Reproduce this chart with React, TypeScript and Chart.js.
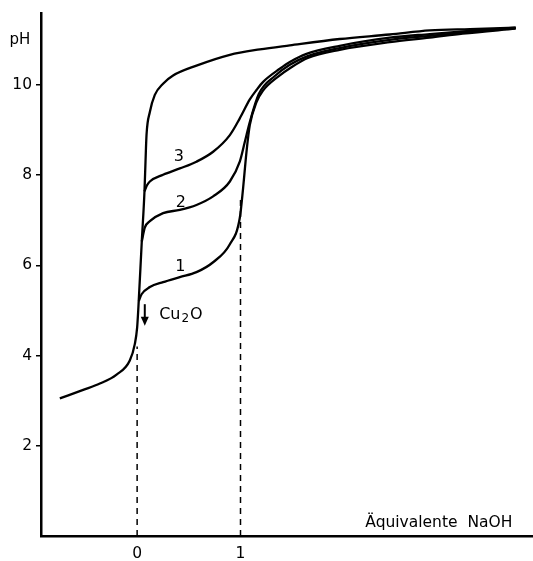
import React, { useEffect, useRef } from "react";
import { Chart, registerables } from "chart.js";

Chart.register(...registerables);

// Axis ranges and ticks (data units)
const X_MIN = -0.93;
const X_MAX = 3.82;
const Y_MIN = 0;
const Y_MAX = 11.59;
const X_TICKS = [0, 1];
const Y_TICKS = [2, 4, 6, 8, 10];

// Curve without Cu (base titration curve, unlabeled)
const curve0X = [-0.748, -0.522, -0.361, -0.199, -0.071, -0.022, 0.0, 0.012, 0.045, 0.071, 0.081, 0.091, 0.123, 0.171, 0.251, 0.348, 0.574, 0.897, 1.187, 1.477, 1.96, 2.444, 2.831, 3.218, 3.662];
const curve0Y = [3.05, 3.24, 3.38, 3.58, 3.89, 4.26, 4.62, 5.06, 6.53, 7.64, 8.3, 8.9, 9.4, 9.78, 10.03, 10.21, 10.43, 10.67, 10.79, 10.88, 11.02, 11.12, 11.21, 11.24, 11.27];

// Curve 1
const curve1X = [0.016, 0.043, 0.123, 0.251, 0.413, 0.574, 0.735, 0.897, 0.993, 1.025, 1.058, 1.09, 1.155, 1.216, 1.361, 1.496, 1.651, 1.96, 2.444, 2.831, 3.15, 3.662];
const curve1Y = [5.21, 5.36, 5.52, 5.63, 5.74, 5.85, 6.07, 6.47, 7.05, 7.71, 8.52, 9.11, 9.62, 9.87, 10.18, 10.4, 10.6, 10.78, 10.95, 11.05, 11.14, 11.25];

// Curve 2
const curve2X = [0.045, 0.074, 0.123, 0.251, 0.413, 0.574, 0.735, 0.897, 0.993, 1.042, 1.09, 1.177, 1.332, 1.477, 1.638, 1.96, 2.444, 2.831, 3.15, 3.662];
const curve2Y = [6.53, 6.84, 6.98, 7.16, 7.23, 7.34, 7.53, 7.86, 8.3, 8.74, 9.18, 9.8, 10.2, 10.45, 10.63, 10.82, 11.0, 11.09, 11.16, 11.26];

// Curve 3
const curve3X = [0.071, 0.094, 0.123, 0.251, 0.413, 0.574, 0.735, 0.897, 0.993, 1.09, 1.155, 1.219, 1.38, 1.477, 1.638, 1.96, 2.444, 2.831, 3.15, 3.662];
const curve3Y = [7.64, 7.77, 7.86, 8.01, 8.15, 8.3, 8.52, 8.89, 9.26, 9.68, 9.89, 10.07, 10.36, 10.51, 10.69, 10.87, 11.05, 11.13, 11.19, 11.27];

// Dashed equivalence markers
const dash0X = [0, 0];
const dash0Y = [0, 4.2];
const dash1X = [1, 1];
const dash1Y = [0, 7.55];

// Text annotations (data coordinates)
const curveLabels = [
  { text: "1", x: 0.418, y: 5.96 },
  { text: "2", x: 0.423, y: 7.38 },
  { text: "3", x: 0.404, y: 8.41 },
];
const arrowX = 0.074;
const arrowFromY = 5.14;
const arrowToY = 4.66;
const cuLabelX = 0.213;
const cuLabelY = 4.81;
const xTitle = "Äquivalente  NaOH";
const xTitleX = 3.63;
const xTitleY = 0.2;
const yTitle = "pH";
const yTitleY = 11.0;

const FONT = "'DejaVu Sans', sans-serif";

const pts = (xs: number[], ys: number[]) => xs.map((x, i) => ({ x, y: ys[i] }));

const annotations = {
  id: "annotations",
  afterDatasetsDraw(chart: any) {
    const { ctx, scales, chartArea } = chart;
    const sx = scales.x;
    const sy = scales.y;
    ctx.save();
    ctx.fillStyle = "#000";
    ctx.strokeStyle = "#000";

    // curve numbers
    ctx.font = `16px ${FONT}`;
    ctx.textAlign = "center";
    ctx.textBaseline = "middle";
    curveLabels.forEach((l) => {
      ctx.fillText(l.text, sx.getPixelForValue(l.x), sy.getPixelForValue(l.y));
    });

    // pH title
    ctx.font = `15px ${FONT}`;
    ctx.fillText(yTitle, chartArea.left - 21, sy.getPixelForValue(yTitleY));

    // arrow
    const ax = sx.getPixelForValue(arrowX);
    const ay0 = sy.getPixelForValue(arrowFromY);
    const ay1 = sy.getPixelForValue(arrowToY);
    ctx.lineWidth = 2;
    ctx.beginPath();
    ctx.moveTo(ax, ay0);
    ctx.lineTo(ax, ay1 - 6);
    ctx.stroke();
    ctx.beginPath();
    ctx.moveTo(ax - 4, ay1 - 9);
    ctx.lineTo(ax + 4, ay1 - 9);
    ctx.lineTo(ax, ay1);
    ctx.closePath();
    ctx.fill();

    // Cu2O
    ctx.textAlign = "left";
    ctx.textBaseline = "alphabetic";
    let cx = sx.getPixelForValue(cuLabelX);
    const cy = sy.getPixelForValue(cuLabelY);
    ctx.font = `16px ${FONT}`;
    ctx.fillText("Cu", cx, cy);
    cx += ctx.measureText("Cu").width + 1;
    ctx.font = `12px ${FONT}`;
    ctx.fillText("2", cx, cy + 3);
    cx += ctx.measureText("2").width + 1;
    ctx.font = `16px ${FONT}`;
    ctx.fillText("O", cx, cy);

    // x title
    ctx.textAlign = "right";
    ctx.font = `15.5px ${FONT}`;
    ctx.fillText(xTitle, sx.getPixelForValue(xTitleX), sy.getPixelForValue(xTitleY));
    ctx.restore();
  },
};

export default function App() {
  const ref = useRef<HTMLCanvasElement>(null);
  useEffect(() => {
    const canvas = ref.current;
    if (!canvas) return;
    const curveStyle = {
      borderColor: "#000",
      borderWidth: 2.3,
      pointRadius: 0,
      fill: false,
      cubicInterpolationMode: "monotone" as const,
    };
    const dashStyle = {
      borderColor: "#000",
      borderWidth: 1.5,
      borderDash: [6, 5],
      pointRadius: 0,
      fill: false,
      tension: 0,
    };
    const chart = new Chart(canvas, {
      type: "line",
      data: {
        datasets: [
          { ...curveStyle, data: pts(curve0X, curve0Y) },
          { ...curveStyle, data: pts(curve1X, curve1Y) },
          { ...curveStyle, data: pts(curve2X, curve2Y) },
          { ...curveStyle, data: pts(curve3X, curve3Y) },
          { ...dashStyle, data: pts(dash0X, dash0Y) },
          { ...dashStyle, data: pts(dash1X, dash1Y) },
        ],
      },
      options: {
        responsive: false,
        animation: false,
        layout: { padding: { top: 11, right: 1, left: 0, bottom: 0 } },
        plugins: { legend: { display: false }, tooltip: { enabled: false } },
        scales: {
          x: {
            type: "linear",
            min: X_MIN,
            max: X_MAX,
            afterBuildTicks: (s: any) => {
              s.ticks = X_TICKS.map((v) => ({ value: v }));
            },
            afterFit: (s: any) => {
              s.height = 25;
            },
            grid: { display: false, drawTicks: false },
            border: { display: true, color: "#000", width: 2.5 },
            ticks: {
              color: "#000",
              font: { family: FONT, size: 15.5 },
              padding: 9,
              maxRotation: 0,
              callback: (v: any) => String(v),
            },
          },
          y: {
            type: "linear",
            min: Y_MIN,
            max: Y_MAX,
            afterBuildTicks: (s: any) => {
              s.ticks = Y_TICKS.map((v) => ({ value: v }));
            },
            afterFit: (s: any) => {
              s.width = 41;
            },
            grid: {
              display: true,
              drawOnChartArea: false,
              drawTicks: true,
              tickLength: 5,
              color: "#000",
              lineWidth: 1.5,
            },
            border: { display: true, color: "#000", width: 2.5 },
            ticks: {
              color: "#000",
              font: { family: FONT, size: 15.5 },
              padding: 4,
              callback: (v: any) => String(v),
            },
          },
        },
      },
      plugins: [annotations],
    });
    return () => chart.destroy();
  }, []);
  return (
    <div style={{ position: "fixed", left: 0, top: 0, width: 533, height: 561, background: "#fff" }}>
      <canvas ref={ref} width={533} height={561} style={{ display: "block" }} />
    </div>
  );
}
